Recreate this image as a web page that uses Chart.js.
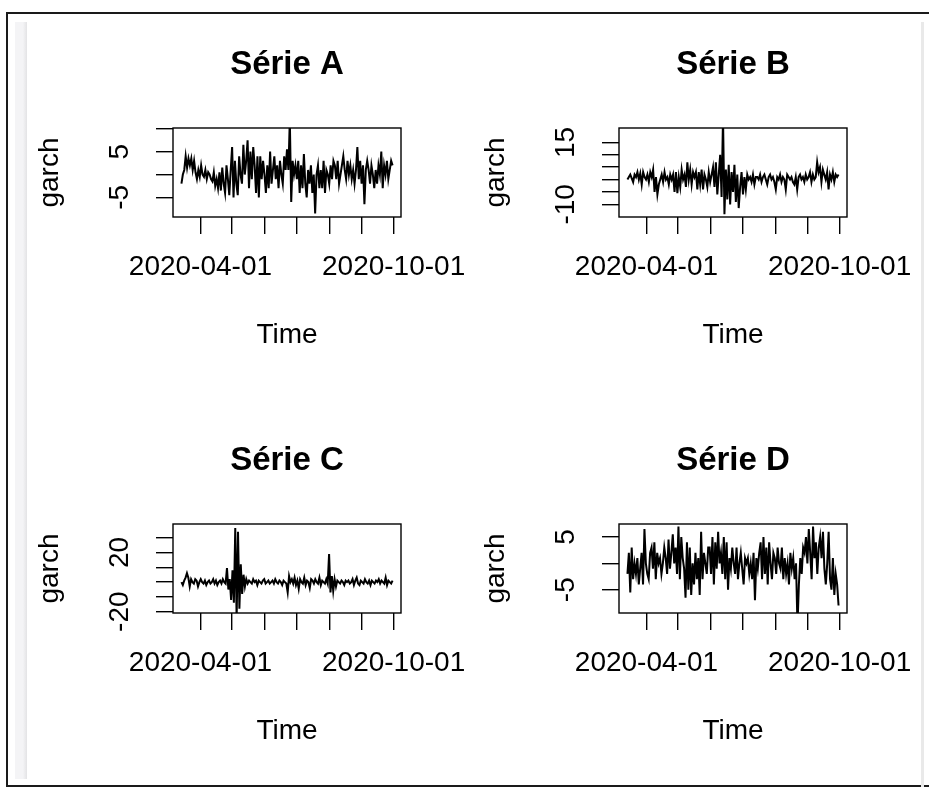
<!DOCTYPE html>
<html>
<head>
<meta charset="utf-8">
<title>garch - séries</title>
<script src="https://cdn.jsdelivr.net/npm/chart.js@4.4.1/dist/chart.umd.min.js"></script>
<style>
  html, body { margin: 0; padding: 0; background: #fff; }
  body { width: 929px; height: 787px; overflow: hidden; position: relative; }
  .frame {
    position: absolute; left: 6px; top: 12px; width: 940px; height: 771px;
    border-top: 2px solid #1a1a1a; border-left: 2px solid #1a1a1a; border-bottom: 2px solid #1a1a1a;
  }
  .strip-left {
    position: absolute; left: 15px; top: 22px; width: 12px; height: 757px;
    background: linear-gradient(to right, #f4f4f6 0%, #f4f4f6 66%, #e3e3e5 100%);
  }
  .strip-right { position: absolute; left: 921px; top: 22px; width: 3px; height: 765px; background: #e9e9e9; }
  .panel { position: absolute; }
</style>
</head>
<body>
<div class="frame"></div>
<div class="strip-left"></div>
<div class="strip-right"></div>
<canvas id="chartA" class="panel" width="440" height="370" style="left:30px;top:30px"></canvas>
<canvas id="chartB" class="panel" width="440" height="370" style="left:476px;top:30px"></canvas>
<canvas id="chartC" class="panel" width="440" height="370" style="left:30px;top:426px"></canvas>
<canvas id="chartD" class="panel" width="440" height="370" style="left:476px;top:426px"></canvas>
<script>
const FONT = '"Liberation Sans", Arial, sans-serif';

// series run from 2020-03-14 to 2020-09-30
const startDate = "2020-03-14";
const endDate = "2020-09-30";
const monthTicks = ["2020-04-01", "2020-05-01", "2020-06-01", "2020-07-01", "2020-08-01", "2020-09-01", "2020-10-01"];
const monthLabels = ["2020-04-01", "", "", "", "", "", "2020-10-01"];

const serieA = [
  -2, 0, 1, 4, 1.5, 3.5, 2, 3.5, 1, 3,
  0.5, -1, 1, -0.5, 2, 0, -0.5, 1, -1, 0.5, 0, -1,
  -1.5, 0.5, -2.5, -1, -3, 0.5, -3.5, 1.5, -2, -4, 2, -1, -4.5, 1,
  6, -5, 3, -2, -4.5, 4, 0,
  -2, 6.5, 0, 3, 7.5, -3, 5, -1, 6, 2, -4, 4,
  -5, 4, -1, 3, 0, -4, 2,
  -3, 5, -2, 1, 4, -1, 2, -3, 3, 0, -2, 4, 1, 5.5,
  1, 12, -6, 3, 0,
  2, -1, 3, -4, 2, -3, 4.5, -2, -5, 1, -2, 2, -4, 0,
  -8.5, 0, 2, -3, 1,
  -3, 3, -4, 1, 0, -2, 2, -1, 3,
  2, -1, 3, -2, 0, 2, 4, 1, -1, 3, 0, 2, -1, 1,
  -2, 1, 6, -1, 3, -2, 2, -6.5, 1,
  3, 1, -2, 2, 0, -3, 1, -2, 2, 0,
  5, -3, 2, 0, 3, -1, 1, 3, 2
];

const serieB = [
  0, 1, 2, 0.5, -1, 2, 1, 3, 0, 2.5, -2, 3, 1, 0, 2, -1, 3, 1,
  4, -5, 1, -6, -2,
  0, 2, -1, 3, 0, 1, -2, 2, 0,
  2, -5, 3, -5.5, 1, -3, 4, 0, 2,
  -3, 7, 0, 4, -2, 3, 1,
  3, -4, 3, -2, 4, -4, 2, 0, -3, 3, -1, 2,
  5, -3, 7, -6, 2,
  10, -7, 25, -14, 4,
  -8, 6, -10, 3, -5,
  6, -9, 2, -11.5, -3, 3, -6,
  1, -4, 2, 0, 1, -1, 2, -2, 1,
  1, 0, 2, -1, 1, 2, 0, -2, 1, 2, 0, 1, -1, -4, 1, 0, 2, -1, 1, 0, -4, 2, 1, 0, 1, -1,
  -2, 1, -4, 1, 2, 0, 1, -1, 2, 0, 1, 3, -1, 2, 0, 1,
  7, 3, 5, -1, 4,
  2, 0, 3, -4, 2, 0, 3, -1, 2, 1, 2
];

const serieC = [
  0, -2, 1, 3, 6, 3, -3, 2, 0, -1, 2, 1, -3, 0, 2, 0, -1, 1, -2, 0, 1, -1, 0, 2, -1, 1, -2, 0, 1, -1, 2, 0, -1,
  9.5, -5, 2,
  -12, 8, -14, 36.5, -25, 34, -18, 12, -8, 5, -3,
  2, -1, 1, 0, -1, 2, 0, 1, -2, 1, 0, -1, 1, 2, -1, 0, 1, -1, 0, 1, -1, 2, 0, -1, 1, 0, -2, 1, 0, -1,
  -7, 4,
  0, 2, -1, 3, -2, 1, -4.5, 2, 0, -1, 3, -2, 1, 0, -4, 2, 1, -1, 2, 0, -1, 3, -2, 1, 0, -1, 2, -1,
  19, -7, 4, -6, 2, -3, 1,
  0, -1, 1, 0, -2, 1, 0, 1, -1, 0, 2, -2, 1, 3, -1, -2, 1, 0, -1, 2,
  0, -1, 1, -2, 1, 0, -1, 1, 0, 2, -1, 1, 0, -1, 3, -2, 1, 0, -1, 1
];

const serieD = [
  -2, 2, -5.5, 3, -3, 0, -2,
  1, -4, -1, 2, -4, 6.5, 0, -2,
  -3, 2, 3, -1, 4, -3, 2, 0, 1,
  -2, 0, 3, 1, -2, 4.5, -1, 2, 5.5, 0,
  3, -2, 7, -3, 5, 1, -1,
  -6.5, 4, -5, 3, -6, 0, -4, 2, -3, 1,
  -6, 6, -3, 2, 0, -2, 3,
  3, -2, 5, -4, 4, -1, 6, 0, 2,
  -2, 5, -3, 4, -5, 1, -1, 3, 0,
  -2, 3, -3, 0, 2, -1, -4, 1, 0,
  1, -2, 0, -3, 2, -7, 1, -1, 2,
  4, -3, 5, -2, 3, -4, 4, 0, -3, 2, 1, -2, 3, 0,
  -1, 3, -3, 1, -2, 0, -4, 2, -1, 1, -3, 0,
  -12, -4, 1, -2,
  3, 2, 5, 0, 6.5, 2, -3, 7, 1, 4, -2, 3, 5, 1, 6,
  -1, -4, 0, 6, -3, -5, 1, -6, -2, -4, -8
];

const yTicksA = [-5, 0, 5, 10];
const yLabelsA = ["-5", "", "5", ""];
const yTicksB = [-10, -5, 0, 5, 10, 15];
const yLabelsB = ["-10", "", "", "", "", "15"];
const yTicksC = [-20, -10, 0, 10, 20, 30];
const yLabelsC = ["-20", "", "", "", "20", ""];
const yTicksD = [-5, 0, 5];
const yLabelsD = ["-5", "", "5"];

function dayOffset(dateStr) {
  return (Date.parse(dateStr) - Date.parse(startDate)) / 86400000;
}

const spanDays = dayOffset(endDate);
const xMin = -spanDays * 0.04;
const xMax = spanDays * 1.04;
const tickDays = monthTicks.map(dayOffset);

function toPoints(values) {
  const step = spanDays / (values.length - 1);
  return values.map((v, i) => ({ x: i * step, y: v }));
}

const measureCtx = document.createElement("canvas").getContext("2d");

// rotated y labels: keep their centre 53px left of the box
function labelPad(labels) {
  measureCtx.font = `28px ${FONT}`;
  const widest = Math.max(...labels.map(l => measureCtx.measureText(l).width));
  return 36 - widest / 2;
}

const boxPlugin = {
  id: "plotBox",
  afterDatasetsDraw(chart) {
    const { ctx, chartArea: a } = chart;
    ctx.save();
    ctx.strokeStyle = "#000";
    ctx.lineWidth = 1.4;
    ctx.strokeRect(a.left, a.top, a.right - a.left, a.bottom - a.top);
    ctx.restore();
  }
};

const panels = [
  { id: "chartA", title: "Série A", values: serieA, yMin: -9.28, yMax: 10.17, yTicks: yTicksA, yLabels: yLabelsA },
  { id: "chartB", title: "Série B", values: serieB, yMin: -15.1, yMax: 20.8, yTicks: yTicksB, yLabels: yLabelsB },
  { id: "chartC", title: "Série C", values: serieC, yMin: -20.9, yMax: 39.3, yTicks: yTicksC, yLabels: yLabelsC },
  { id: "chartD", title: "Série D", values: serieD, yMin: -9.42, yMax: 7.47, yTicks: yTicksD, yLabels: yLabelsD }
];

const textFont = { family: FONT, size: 28, lineHeight: 1 };
const gridOpts = { drawOnChartArea: false, drawTicks: true, tickLength: 17, tickWidth: 1.4, lineWidth: 1.4, color: "#000", tickColor: "#000" };

function renderPanel(p) {
  new Chart(document.getElementById(p.id), {
    type: "line",
    data: {
      datasets: [{
        data: toPoints(p.values),
        borderColor: "#000",
        borderWidth: 2,
        pointRadius: 0,
        tension: 0
      }]
    },
    options: {
      responsive: false,
      animation: false,
      events: [],
      layout: { padding: { left: 0, right: 69, top: 0, bottom: 0 } },
      plugins: {
        legend: { display: false },
        tooltip: { enabled: false },
        title: {
          display: true,
          fullSize: false,
          text: p.title,
          color: "#000",
          font: { family: FONT, size: 33, weight: "bold", lineHeight: 1 },
          padding: { top: 18, bottom: 47 }
        }
      },
      scales: {
        x: {
          type: "linear",
          min: xMin,
          max: xMax,
          afterBuildTicks: s => { s.ticks = tickDays.map(v => ({ value: v })); },
          afterFit: s => { s.height = 183; s.paddingLeft = 0; s.paddingRight = 0; },
          grid: gridOpts,
          border: { display: false },
          ticks: {
            autoSkip: false, minRotation: 0, maxRotation: 0, padding: 19,
            color: "#000", font: textFont,
            callback: (v, i) => monthLabels[i]
          },
          title: { display: true, text: "Time", color: "#000", font: textFont, padding: { top: 0, bottom: 51 } }
        },
        y: {
          type: "linear",
          min: p.yMin,
          max: p.yMax,
          afterBuildTicks: s => { s.ticks = p.yTicks.map(v => ({ value: v })); },
          afterFit: s => { s.width = 143; s.paddingTop = 0; s.paddingBottom = 0; },
          grid: gridOpts,
          border: { display: false },
          ticks: {
            autoSkip: false, minRotation: 90, maxRotation: 90, crossAlign: "center",
            padding: labelPad(p.yLabels),
            color: "#000", font: textFont,
            callback: (v, i) => p.yLabels[i]
          },
          title: { display: true, text: "garch", color: "#000", font: textFont, padding: { top: 6, bottom: 0 } }
        }
      }
    },
    plugins: [boxPlugin]
  });
}

panels.forEach(renderPanel);
</script>
</body>
</html>
